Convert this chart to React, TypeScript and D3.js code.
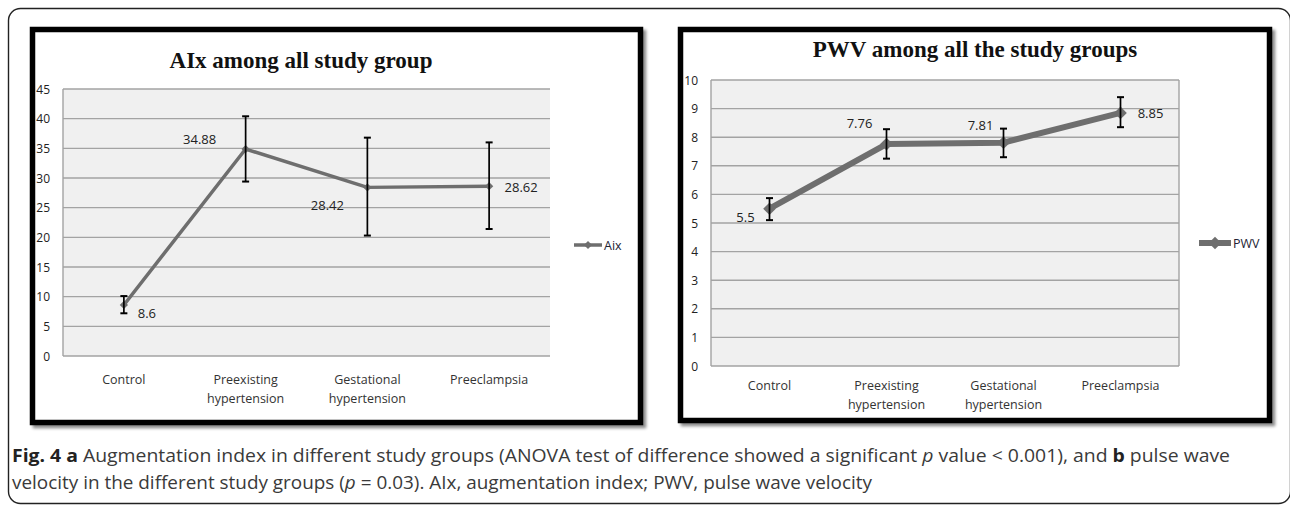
import React from 'react';
import * as d3 from 'd3';

// ---------- data ----------
const categoryLines: string[][] = [
  ['Control'],
  ['Preexisting', 'hypertension'],
  ['Gestational', 'hypertension'],
  ['Preeclampsia'],
];

const aixValues = [8.6, 34.88, 28.42, 28.62];
const aixLow = [7.2, 29.4, 20.3, 21.4];
const aixHigh = [10.1, 40.4, 36.8, 36.0];
const aixLabels = ['8.6', '34.88', '28.42', '28.62'];
const aixTicks = [0, 5, 10, 15, 20, 25, 30, 35, 40, 45];

const pwvValues = [5.5, 7.76, 7.81, 8.85];
const pwvLow = [5.1, 7.25, 7.3, 8.35];
const pwvHigh = [5.87, 8.28, 8.3, 9.4];
const pwvLabels = ['5.5', '7.76', '7.81', '8.85'];
const pwvTicks = [0, 1, 2, 3, 4, 5, 6, 7, 8, 9, 10];

// ---------- layout / style ----------
const FONT = "'Open Sans', 'Noto Sans', sans-serif";
const SERIF = "'Liberation Serif', 'Times New Roman', serif";
const LINE_COLOR = '#6e6e6e';

type ChartProps = {
  frame: { x: number; y: number; w: number; h: number };
  title: string;
  titleX: number;
  titleY: number;
  plot: { x0: number; x1: number; y0: number; y1: number };
  yMax: number;
  ticks: number[];
  values: number[];
  low: number[];
  high: number[];
  labels: string[];
  labelOffsets: [number, number][];
  lineWidth: number;
  markerSize: number;
  capW: number;
  legendName: string;
  legend: { x0: number; x1: number; y: number };
  xLabelY: number;
  rightBorder: boolean;
};

function Chart(p: ChartProps) {
  const x = d3
    .scaleBand<number>()
    .domain(d3.range(categoryLines.length))
    .range([p.plot.x0, p.plot.x1]);
  const cx = (i: number) => (x(i) as number) + x.bandwidth() / 2;
  const y = d3.scaleLinear().domain([0, p.yMax]).range([p.plot.y1, p.plot.y0]);
  const line = d3
    .line<number>()
    .x((_, i) => cx(i))
    .y((d) => y(d));
  const marker = d3.symbol(d3.symbolSquare, p.markerSize)() as string;
  const { x: fx, y: fy, w: fw, h: fh } = p.frame;
  return (
    <g>
      <rect x={fx} y={fy} width={fw} height={fh} fill="#fff" stroke="#000" strokeWidth={5.5} filter="url(#shadow)" />
      <text x={p.titleX} y={p.titleY} textAnchor="middle" fontFamily={SERIF} fontWeight="bold" fontSize={23} fill="#111">
        {p.title}
      </text>
      <rect x={p.plot.x0} y={p.plot.y0} width={p.plot.x1 - p.plot.x0} height={p.plot.y1 - p.plot.y0} fill="#f0f0f0" />
      {p.ticks.map((t) => (
        <line key={t} x1={p.plot.x0} x2={p.plot.x1} y1={y(t)} y2={y(t)} stroke="#a3a3a3" strokeWidth={1.4} />
      ))}
      <line x1={p.plot.x0} x2={p.plot.x0} y1={p.plot.y0} y2={p.plot.y1} stroke="#a3a3a3" strokeWidth={1.4} />
      {p.rightBorder && (
        <line x1={p.plot.x1} x2={p.plot.x1} y1={p.plot.y0} y2={p.plot.y1} stroke="#a3a3a3" strokeWidth={1.4} />
      )}
      {p.ticks.map((t) => (
        <text key={'t' + t} x={p.plot.x0 - 13} y={y(t) + 4.5} textAnchor="end" fontFamily={FONT} fontSize={12} fill="#222">
          {t}
        </text>
      ))}
      {categoryLines.map((ls, i) => (
        <text key={'c' + i} textAnchor="middle" fontFamily={FONT} fontSize={12.5} fill="#333">
          {ls.map((l, j) => (
            <tspan key={j} x={cx(i)} y={p.xLabelY + j * 19}>
              {l}
            </tspan>
          ))}
        </text>
      ))}
      <path d={line(p.values) as string} fill="none" stroke={LINE_COLOR} strokeWidth={p.lineWidth} strokeLinejoin="round" />
      {p.values.map((v, i) => (
        <path key={'m' + i} d={marker} transform={`translate(${cx(i)},${y(v)}) rotate(45)`} fill={LINE_COLOR} />
      ))}
      {p.values.map((_, i) => (
        <g key={'e' + i} stroke="#000" strokeWidth={2}>
          <line x1={cx(i)} x2={cx(i)} y1={y(p.low[i])} y2={y(p.high[i])} strokeWidth={1.7} />
          <line x1={cx(i) - p.capW} x2={cx(i) + p.capW} y1={y(p.low[i])} y2={y(p.low[i])} />
          <line x1={cx(i) - p.capW} x2={cx(i) + p.capW} y1={y(p.high[i])} y2={y(p.high[i])} />
        </g>
      ))}
      {p.values.map((v, i) => (
        <text
          key={'l' + i}
          x={cx(i) + p.labelOffsets[i][0]}
          y={y(v) + p.labelOffsets[i][1]}
          textAnchor="middle"
          fontFamily={FONT}
          fontSize={13}
          fill="#222"
        >
          {p.labels[i]}
        </text>
      ))}
      <line x1={p.legend.x0} x2={p.legend.x1} y1={p.legend.y} y2={p.legend.y} stroke={LINE_COLOR} strokeWidth={p.lineWidth} />
      <path
        d={marker}
        transform={`translate(${(p.legend.x0 + p.legend.x1) / 2},${p.legend.y}) rotate(45)`}
        fill={LINE_COLOR}
      />
      <text x={p.legend.x1 + 2} y={p.legend.y + 4.5} fontFamily={FONT} fontSize={12.5} fill="#223">
        {p.legendName}
      </text>
    </g>
  );
}

export default function App() {
  return (
    <svg
      width={1290}
      height={506}
      viewBox="0 0 1290 506"
      style={{ position: 'absolute', left: 0, top: 0, background: '#fff' }}
    >
      <defs>
        <filter id="shadow" x="-5%" y="-5%" width="112%" height="112%">
          <feDropShadow dx={3} dy={3} stdDeviation={1.6} floodColor="#000" floodOpacity={0.45} />
        </filter>
      </defs>
      <rect x={8.5} y={8.5} width={1282} height={495} rx={12} fill="#fff" stroke="#222" strokeWidth={1.4} />
      <Chart
        frame={{ x: 32.5, y: 29.5, w: 608, h: 393 }}
        title="AIx among all study group"
        titleX={301}
        titleY={68}
        plot={{ x0: 63, x1: 550, y0: 89, y1: 356 }}
        yMax={45}
        ticks={aixTicks}
        values={aixValues}
        low={aixLow}
        high={aixHigh}
        labels={aixLabels}
        labelOffsets={[
          [23, 13],
          [-46, -5],
          [-40, 23],
          [32, 6],
        ]}
        lineWidth={3.5}
        markerSize={34}
        capW={3.5}
        legendName="Aix"
        legend={{ x0: 574, x1: 602, y: 245 }}
        xLabelY={384}
        rightBorder={false}
      />
      <Chart
        frame={{ x: 680.5, y: 29.5, w: 589, h: 391 }}
        title="PWV among all the study groups"
        titleX={975}
        titleY={57}
        plot={{ x0: 711, x1: 1179, y0: 80, y1: 366 }}
        yMax={10}
        ticks={pwvTicks}
        values={pwvValues}
        low={pwvLow}
        high={pwvHigh}
        labels={pwvLabels}
        labelOffsets={[
          [-24, 13],
          [-27, -16],
          [-23, -13],
          [30, 5],
        ]}
        lineWidth={6}
        markerSize={80}
        capW={3.5}
        legendName="PWV"
        legend={{ x0: 1199, x1: 1231, y: 243 }}
        xLabelY={390}
        rightBorder={true}
      />
      <text x={12} y={462} fontFamily={FONT} fontSize={17.5} fill="#3a3a3a" textLength={1218} lengthAdjust="spacingAndGlyphs">
        <tspan fontWeight="bold" fill="#222">Fig. 4 a</tspan> Augmentation index in different study groups (ANOVA test of difference showed a
        significant <tspan fontStyle="italic">p</tspan> value {'<'} 0.001), and <tspan fontWeight="bold" fill="#222">b</tspan> pulse wave
      </text>
      <text x={12} y={489} fontFamily={FONT} fontSize={17.5} fill="#3a3a3a" textLength={860} lengthAdjust="spacingAndGlyphs">
        velocity in the different study groups (<tspan fontStyle="italic">p</tspan> = 0.03). AIx, augmentation index; PWV, pulse
        wave velocity
      </text>
    </svg>
  );
}
